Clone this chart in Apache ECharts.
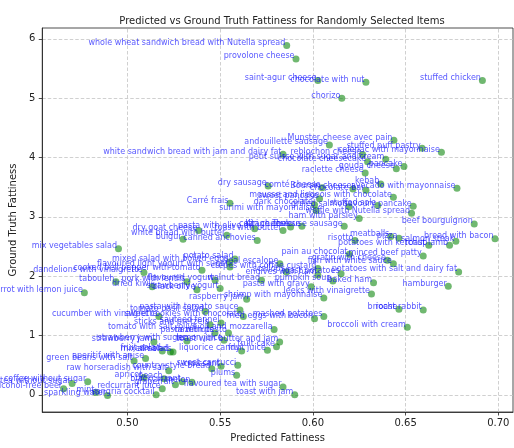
<!DOCTYPE html>
<html><head><meta charset="utf-8">
<script src="https://cdn.jsdelivr.net/npm/echarts@6/dist/echarts.min.js"></script>
<style>html,body{margin:0;padding:0;background:#fff}#c{width:514px;height:448px}</style>
</head><body><div id="c"></div>
<script>
const labels = [
"whole wheat sandwich bread with Nutella spread","provolone cheese","saint-agur cheese","chocolate with nut","stuffed chicken","chorizo",
"Munster cheese avec pain","andouillette sausage","stuffed puff pastry","celeriac with mayonnaise","white sandwich bread with jam and dairy fat","reblochon cheese",
"petit suisse with sugar and cream","chocolate cheesecake","gouda cheese","pancake","raclette cheese","dry sausage",
"comté cheese","kebab","chocolate bar","Boursin cheese","avocado with mayonnaise","mousse and liegeois with chocolate",
"sweet pancake","Carré frais","dark chocolate","grilled salmon","stuffed sole","savoury pancake",
"surimi with mayonnaise","waffle with Nutella spread","ham with parsley","beef bourguignon","pasta with olive oil","toast with butter",
"Kiri cheese","cottage cheese","Toulouse sausage","dry goat cheese","white bread with butter","bulgur",
"canned anchovies","mix vegetables salad","meatballs","pizza","risotto","potatoes with ketchup",
"roast lamb","salmon steak","bread with bacon","minced beef patty","pain au chocolat","gratin with cheese",
"fish with white sauce","potatoes with salt and dairy fat","mixed salad with boiled eggs","potato salad","flavoured light yogurt with sugar","dandelions with vinaigrette",
"cooked bell pepper with tomato","scallops","veal escalope","crepes with coffee custard","roast potatoes","carrot with lemon juice",
"tabouleh","pork with lentils","flavoured yogurt","dried kiwi","black olive","strawberry yogurt",
"raspberry jam","walnut bread","baked ham","hamburger","leeks with vinaigrette","shrimp with mayonnaise",
"pumpkin soup","pasta with gravy","endives with ham","brioche","roast rabbit","mashed potatoes",
"fried eggs with bacon","broccoli with cream","tomato with salt, olive oil and mozzarella","tomato basil salad","cucumber with vinaigrette","pasta with tomato sauce",
"sweet cookies with chocolate","sauteed fennel","sticks and pretzels","pasta with pesto","toast with butter and jam","fruit cake",
"fruit juice","liquorice candy","lemon juice","strawberry jam","strawberry with sugar","mixed salad",
"fruit salad","almonds","aperitif with anise","green beans with salt","country-style bread","sweet cantucci",
"croissant","plums","raw horseradish with salt","flavoured tea without sugar","alcohol-free beer","mint",
"sparkling water","sangria cocktail","redcurrant juice","grapefruit","melon","flavoured tea with sugar",
"toast with jam","peach","blackcurrant","apricot","coffee without sugar","hazelnuts"
];
const predicted = [
0.5859,0.5909,0.6027,0.6286,0.6914,0.6156,
0.6437,0.6089,0.6589,0.6693,0.5839,0.6268,
0.6393,0.6295,0.6450,0.6491,0.6282,0.5759,
0.6050,0.6366,0.6286,0.6216,0.6777,0.6434,
0.6036,0.5553,0.6009,0.6195,0.6350,0.6541,
0.6018,0.6532,0.6250,0.6870,0.5686,0.5839,
0.5880,0.5941,0.6169,0.5384,0.5536,0.5300,
0.5700,0.4952,0.6420,0.6464,0.6227,0.6625,
0.6737,0.6771,0.6982,0.6595,0.6196,0.6402,
0.6434,0.6786,0.5553,0.5580,0.5553,0.5089,
0.5402,0.5857,0.5822,0.6027,0.6152,0.4768,
0.4938,0.5321,0.5473,0.5134,0.5375,0.5500,
0.5643,0.5723,0.6327,0.6730,0.6316,0.6059,
0.6108,0.5991,0.6027,0.6464,0.6595,0.6059,
0.6009,0.6509,0.5791,0.5419,0.5170,0.5607,
0.5625,0.5505,0.5446,0.5545,0.5821,0.5804,
0.5755,0.5616,0.5521,0.5143,0.5321,0.5232,
0.5188,0.5246,0.5098,0.5036,0.5455,0.5595,
0.5505,0.5589,0.5223,0.4702,0.4656,0.4830,
0.4893,0.5155,0.5188,0.5259,0.5348,0.5839,
0.5902,0.5198,0.5295,0.5089,0.4786,0.5472
];
const truth = [
5.89,5.66,5.30,5.27,5.30,5.00,
4.29,4.21,4.155,4.09,4.055,4.05,
3.97,3.93,3.81,3.85,3.74,3.52,
3.49,3.555,3.45,3.47,3.48,3.33,
3.305,3.23,3.205,3.17,3.19,3.18,
3.105,3.06,2.97,2.88,2.80,2.77,
2.83,2.84,2.84,2.77,2.69,2.62,
2.60,2.46,2.67,2.64,2.60,2.52,
2.52,2.59,2.63,2.34,2.37,2.27,
2.21,2.07,2.24,2.29,2.155,2.06,
2.10,2.07,2.21,2.13,2.04,1.72,
1.905,1.905,1.93,1.82,1.77,1.79,
1.61,1.93,1.89,1.83,1.70,1.63,
1.92,1.82,2.02,1.44,1.43,1.32,
1.28,1.14,1.10,1.405,1.32,1.43,
1.32,1.21,1.18,1.04,0.89,0.81,
0.75,0.74,0.92,0.89,0.905,0.72,
0.74,0.72,0.61,0.57,0.44,0.50,
0.48,0.33,0.405,0.19,0.10,0.04,
-0.01,0.0,0.10,0.17,0.21,0.13,
0.0,0.27,0.22,0.29,0.22,1.04
];
const xTicks = [0.50,0.55,0.60,0.65,0.70];
const yTicks = [0,1,2,3,4,5,6];

const chart = echarts.init(document.getElementById('c'), null, {renderer:'canvas'});
const FONT = 'DejaVu Sans';
const pts = predicted.map((x,i)=>({name:labels[i], value:[x, truth[i]]}));
const gridLines = xTicks.map(v=>({xAxis:v})).concat(yTicks.map(v=>({yAxis:v})));
chart.setOption({
  animation:false,
  title:{text:'Predicted vs Ground Truth Fattiness for Randomly Selected Items', left:277, top:11, textAlign:'center',
    textStyle:{fontFamily:FONT, fontSize:10, fontWeight:'normal', color:'#222'}},
  grid:{left:39, right:1, top:28, bottom:31, show:true, borderColor:'#222', borderWidth:0.8, backgroundColor:'transparent'},
  xAxis:{type:'value', min:0.4541, max:0.7079, name:'Predicted Fattiness', nameLocation:'middle', nameGap:21,
    nameTextStyle:{fontFamily:FONT, fontSize:10, color:'#222'},
    axisLine:{show:true, onZero:false, lineStyle:{color:'#222', width:0.8}},
    axisTick:{show:true, length:3.5, customValues:xTicks, lineStyle:{color:'#222', width:0.8}},
    axisLabel:{customValues:xTicks, formatter:v=>v.toFixed(2), fontFamily:FONT, fontSize:10, color:'#222', margin:6},
    splitLine:{show:false}},
  yAxis:{type:'value', min:-0.29, max:6.183, name:'Ground Truth Fattiness', nameLocation:'middle', nameGap:21, nameRotate:90,
    nameTextStyle:{fontFamily:FONT, fontSize:10, color:'#222'},
    axisLine:{show:true, onZero:false, lineStyle:{color:'#222', width:0.8}},
    axisTick:{show:true, length:3.5, customValues:yTicks, lineStyle:{color:'#222', width:0.8}},
    axisLabel:{customValues:yTicks, formatter:v=>String(Math.round(v)), fontFamily:FONT, fontSize:10, color:'#222', margin:7},
    splitLine:{show:false}},
  series:[
    {type:'scatter', data:[], z:0, silent:true,
      markLine:{silent:true, symbol:'none', z:0, label:{show:false}, animation:false,
        lineStyle:{color:'#c4c4c4', type:[3.5,2], width:0.8}, data:gridLines}},
    {type:'scatter', data:pts, symbolSize:7, z:2,
      itemStyle:{color:'rgba(0,128,0,0.7)'},
      label:{show:true, formatter:'{b}', position:[2,0.8], align:'right', verticalAlign:'middle',
        fontFamily:FONT, fontSize:8, color:'rgba(0,0,255,0.85)'},
      labelLayout:{hideOverlap:false}}
  ]
});
</script></body></html>
